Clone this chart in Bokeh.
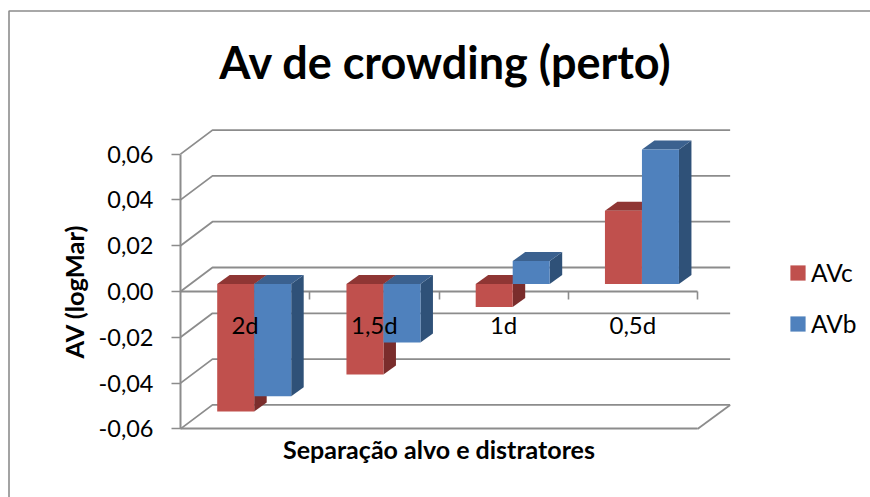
from bokeh.plotting import figure
from bokeh.embed import file_html
from bokeh.resources import INLINE
from bokeh.models import LinearAxis, FixedTicker, Range1d, Legend, LegendItem, Label

# ---- data ----
categories = ["2d", "1,5d", "1d", "0,5d"]
AVc = [-0.0557, -0.0395, -0.0100, 0.0320]
AVb = [-0.0490, -0.0255, 0.0100, 0.0587]
y_ticks = [-0.06, -0.04, -0.02, 0.0, 0.02, 0.04, 0.06]
y_labels = ["-0,06", "-0,04", "-0,02", "0,00", "0,02", "0,04", "0,06"]
title_text = "Av de crowding (perto)"
x_title = "Separação alvo e distratores"
y_title = "AV (logMar)"

# ---- layout / scale ----
W, H = 870, 497
PX_PER_CAT = 129.25
PX_PER_VAL = 2290.0
X0_PX = 180.0   # category origin, in figure pixels
Y0_PX = 291.0   # value zero, in figure pixels
x_range = Range1d(-X0_PX / PX_PER_CAT, (W - X0_PX) / PX_PER_CAT)
y_range = Range1d((Y0_PX - H) / PX_PER_VAL, Y0_PX / PX_PER_VAL)

WALL_DX = 32.0 / PX_PER_CAT
WALL_DY = 24.0 / PX_PER_VAL
BAR_DX = 12.5 / PX_PER_CAT
BAR_DY = 9.0 / PX_PER_VAL
BAR_LIFT = 7.5 / PX_PER_VAL
BAR_W = 37.0 / PX_PER_CAT
BAR_START = 36.7 / PX_PER_CAT

GREY = "#8c8c8c"
FONT = "Lato"

p = figure(width=W, height=H, x_range=x_range, y_range=y_range,
           x_axis_type=None, y_axis_type=None, toolbar_location=None,
           output_backend="svg", min_border=0, outline_line_color=None,
           background_fill_color="white", border_fill_color="white")

# outer chart border (only left and top are in view)
bx = (8.5 - X0_PX) / PX_PER_CAT
by = (Y0_PX - 10.5) / PX_PER_VAL
p.line([bx, bx, x_range.end], [y_range.start, by, by], line_color=GREY, line_width=1.6)

# title
p.add_layout(Label(x=445, y=H - 61, x_units="screen", y_units="screen",
                   text=title_text, text_font=FONT, text_font_style="bold",
                   text_font_size="45px", text_align="center", text_baseline="middle",
                   text_color="black"))

# walls: gridlines run from the front axis to the back, then across
N = len(categories)
grid_xs, grid_ys = [], []
for t in y_ticks:
    grid_xs.append([0, WALL_DX, N + WALL_DX + 0.005])
    grid_ys.append([t, t + WALL_DY, t + WALL_DY])
p.multi_line(grid_xs, grid_ys, line_color=GREY, line_width=1.8)
# floor edge at right
p.line([N, N + WALL_DX + 0.005], [y_ticks[0], y_ticks[0] + WALL_DY], line_color=GREY, line_width=1.8)


# bars
def faces(i, offs, v):
    lo = BAR_LIFT
    hi = v + BAR_LIFT
    l = i + offs
    r = l + BAR_W
    top, bot = max(lo, hi), min(lo, hi)
    front = ([l, r, r, l], [bot, bot, top, top])
    cap = ([l, r, r + BAR_DX, l + BAR_DX], [top, top, top + BAR_DY, top + BAR_DY])
    side = ([r, r + BAR_DX, r + BAR_DX, r], [bot, bot + BAR_DY, top + BAR_DY, top])
    return front, cap, side


def draw(values, offs, c_front, c_cap, c_side):
    F = [faces(i, offs, v) for i, v in enumerate(values)]
    p.patches([f[2][0] for f in F], [f[2][1] for f in F], fill_color=c_side, line_color=None)
    p.patches([f[1][0] for f in F], [f[1][1] for f in F], fill_color=c_cap, line_color=None)
    return p.patches([f[0][0] for f in F], [f[0][1] for f in F], fill_color=c_front, line_color=None)


r_c = draw(AVc, BAR_START, "#c0504d", "#8f3634", "#7a2d2c")
r_b = draw(AVb, BAR_START + BAR_W, "#4f81bd", "#3b618f", "#2f5178")

# y axis
ya = LinearAxis(fixed_location=0, bounds=(y_ticks[0], y_ticks[-1]),
                ticker=FixedTicker(ticks=y_ticks),
                major_label_overrides=dict(zip(y_ticks, y_labels)),
                axis_line_color=GREY, axis_line_width=2,
                major_tick_line_color=GREY, major_tick_line_width=1.6,
                major_tick_in=0, major_tick_out=9, minor_tick_line_color=None,
                major_label_text_font=FONT, major_label_text_font_size="23.5px",
                major_label_standoff=18, major_label_text_color="black",
                axis_label=y_title, axis_label_text_font=FONT,
                axis_label_text_font_style="bold", axis_label_text_font_size="25.5px",
                axis_label_text_color="black", axis_label_standoff=7, level="underlay")
p.add_layout(ya, "left")

# x axis line at value zero, under the bars
xa = LinearAxis(fixed_location=0, bounds=(0, N), ticker=FixedTicker(ticks=[]),
                axis_line_color=GREY, axis_line_width=1.8,
                major_tick_line_color=None, minor_tick_line_color=None, level="underlay")
p.add_layout(xa, "below")

# category labels (above the bars) and the ticks between categories
centers = [i + 0.5 for i in range(N)]
xl = LinearAxis(fixed_location=0, bounds=(0, N),
                ticker=FixedTicker(ticks=centers, minor_ticks=list(range(1, N + 1))),
                major_label_overrides=dict(zip(centers, categories)),
                major_label_text_font=FONT, major_label_text_font_size="24px",
                major_label_text_color="black", major_label_standoff=10,
                axis_line_color=None, major_tick_line_color=None,
                major_tick_out=0, major_tick_in=0,
                minor_tick_line_color=GREY, minor_tick_line_width=1.6,
                minor_tick_in=0, minor_tick_out=8,
                level="overlay")
p.add_layout(xl, "below")

# floor front edge with the axis title
xb = LinearAxis(fixed_location=y_ticks[0], bounds=(0, N), ticker=FixedTicker(ticks=[]),
                axis_line_color=GREY, axis_line_width=2,
                major_tick_line_color=None, minor_tick_line_color=None,
                axis_label=x_title, axis_label_text_font=FONT, axis_label_text_font_style="bold",
                axis_label_text_font_size="25px", axis_label_text_color="black",
                axis_label_standoff=5)
p.add_layout(xb, "below")

# legend
legend = Legend(items=[LegendItem(label="AVc", renderers=[r_c]),
                       LegendItem(label="AVb", renderers=[r_b])],
                location=(788, 159), orientation="vertical",
                glyph_width=19, glyph_height=19, label_standoff=4, spacing=22,
                padding=0, margin=0, border_line_color=None, background_fill_alpha=0,
                label_text_font=FONT, label_text_font_size="24.5px", label_text_color="black")
p.add_layout(legend, "center")

open("out.html", "w").write(file_html(p, INLINE))
